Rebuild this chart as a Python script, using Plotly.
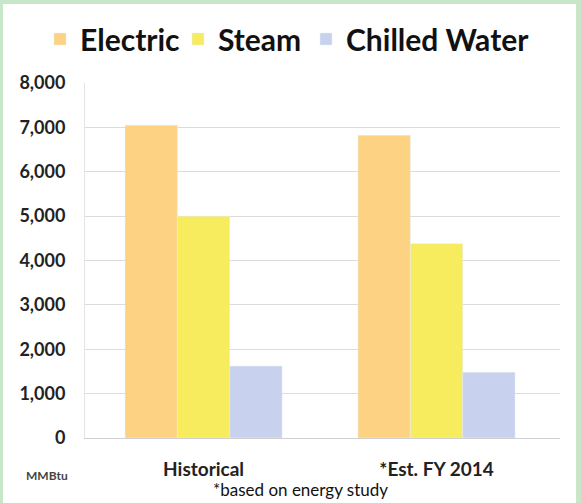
import plotly.graph_objects as go

categories = ["Historical", "*Est. FY 2014"]
electric = [7050, 6820]
steam = [5000, 4380]
chilled_water = [1620, 1480]
y_ticks = [0, 1000, 2000, 3000, 4000, 5000, 6000, 7000, 8000]
y_tick_labels = ["0", "1,000", "2,000", "3,000", "4,000", "5,000", "6,000", "7,000", "8,000"]

FONT = "Lato"
W, H = 581, 503
L, R, T, B = 85, 21, 83, 65
PW, PH = W - L - R, H - T - B

def px_x(x):
    return (x - L) / PW

def px_y(y):
    return (H - B - y) / PH

def legend_at(text_left_px):
    return dict(
        orientation="h",
        xref="container", yref="container",
        x=(text_left_px - 40) / W, xanchor="left",
        y=(H - 39) / H, yanchor="middle",
        font=dict(family=FONT, size=30, color="#111", weight="bold"),
        bgcolor="rgba(0,0,0,0)",
        itemwidth=30,
    )

fig = go.Figure()
fig.add_trace(go.Bar(name="Electric", x=categories, y=electric,
                     marker_color="#FDD283", legend="legend"))
fig.add_trace(go.Bar(name="Steam", x=categories, y=steam,
                     marker_color="#F6EC5E", legend="legend2"))
fig.add_trace(go.Bar(name="Chilled Water", x=categories, y=chilled_water,
                     marker_color="#C8D2EE", legend="legend3"))

fig.update_layout(
    width=W, height=H,
    margin=dict(l=L, r=R, t=T, b=B, pad=0, autoexpand=False),
    paper_bgcolor="#C8E6C8",
    plot_bgcolor="white",
    barmode="group",
    bargap=0.326,
    bargroupgap=0,
    font=dict(family=FONT, color="#1a1a1a"),
    showlegend=True,
    legend=legend_at(80),
    legend2=legend_at(218),
    legend3=legend_at(346),
    xaxis=dict(
        type="category",
        range=[-0.509, 1.53],
        showgrid=False,
        showline=True, linecolor="#d0d0d0", linewidth=1,
        ticks="", ticklabelstandoff=14,
        tickfont=dict(family=FONT, size=19, color="#222", weight="bold"),
    ),
    yaxis=dict(
        range=[0, 8000],
        tickvals=y_ticks, ticktext=y_tick_labels,
        showgrid=True, gridcolor="#dcdcdc", gridwidth=1,
        zeroline=False,
        showline=True, linecolor="#e4e4e4", linewidth=1,
        ticks="", ticklabelstandoff=15,
        tickfont=dict(family=FONT, size=18, color="#222", weight="bold"),
    ),
    shapes=[
        dict(type="rect", xref="paper", yref="paper",
             x0=px_x(3), x1=px_x(576), y0=px_y(H + 5), y1=px_y(4),
             fillcolor="white", line=dict(width=0), layer="below"),
    ],
    annotations=[
        dict(text="<b>MMBtu</b>", xref="paper", yref="paper",
             x=px_x(24), y=px_y(475), xanchor="left", yanchor="middle",
             showarrow=False, font=dict(family=FONT, size=12, color="#444")),
        dict(text="*based on energy study", xref="paper", yref="paper",
             x=px_x(300), y=px_y(489), xanchor="center", yanchor="middle",
             showarrow=False, font=dict(family=FONT, size=17, color="#111")),
    ],
)

fig.write_html("out.html", config={"displayModeBar": False},
               post_script="document.body.style.margin='0';document.body.style.padding='0';")
